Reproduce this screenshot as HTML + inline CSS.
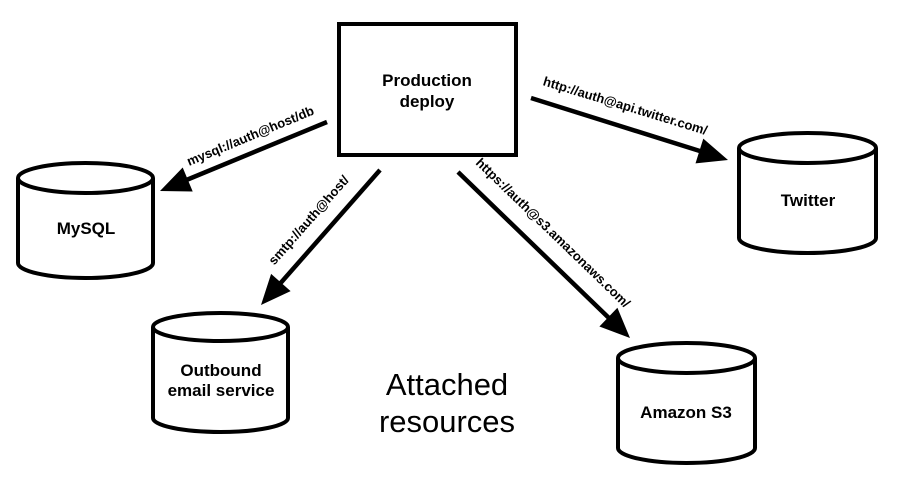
<!DOCTYPE html>
<html><head><meta charset="utf-8"><style>
html,body{margin:0;padding:0;background:#fff;}
svg{display:block;font-family:"Liberation Sans",sans-serif;font-weight:bold;}
</style></head><body>
<svg width="904" height="477" viewBox="0 0 904 477" xmlns="http://www.w3.org/2000/svg">
<g fill="#fff" stroke="#000" stroke-width="4">
<rect x="339" y="24" width="177" height="131"/>
<path d="M18,178 L18,263 A67.5,15 0 0 0 153,263 L153,178"/>
<ellipse cx="85.5" cy="178" rx="67.5" ry="15"/>
<path d="M153,327 L153,418 A67.5,14 0 0 0 288,418 L288,327"/>
<ellipse cx="220.5" cy="327" rx="67.5" ry="14"/>
<path d="M739,148 L739,238 A68.5,15 0 0 0 876,238 L876,148"/>
<ellipse cx="807.5" cy="148" rx="68.5" ry="15"/>
<path d="M618,358 L618,448 A68.5,15 0 0 0 755,448 L755,358"/>
<ellipse cx="686.5" cy="358" rx="68.5" ry="15"/>
</g>
<g stroke="#000" stroke-width="4.5" fill="none">
<line x1="327" y1="122" x2="184" y2="181"/>
<line x1="380" y1="170" x2="278" y2="286"/>
<line x1="458" y1="172" x2="611" y2="320"/>
<line x1="531" y1="98" x2="703" y2="152"/>
</g>
<g fill="#000">
<polygon points="160,191 182.7,167.5 192.7,191.5"/>
<polygon points="261,305 271.1,273.9 290.6,291.1"/>
<polygon points="630,338 599.4,326.5 617.4,307.7"/>
<polygon points="728,160 695.5,163.4 703.3,138.6"/>
</g>
<g font-size="17" text-anchor="middle" fill="#000">
<text x="427" y="86">Production</text>
<text x="427" y="107">deploy</text>
<text x="86" y="234">MySQL</text>
<text x="221" y="376">Outbound</text>
<text x="221" y="396">email service</text>
<text x="808" y="206">Twitter</text>
<text x="686" y="418">Amazon S3</text>
</g>
<g font-size="13" text-anchor="middle" fill="#000">
<text transform="translate(252,140) rotate(-22.5)">mysql://auth@host/db</text>
<text transform="translate(312,223) rotate(-48.5)">smtp://auth@host/</text>
<text transform="translate(550,236) rotate(44)">https://auth@s3.amazonaws.com/</text>
<text transform="translate(624,110) rotate(17)">http://auth@api.twitter.com/</text>
</g>
<g font-size="31" text-anchor="middle" fill="#000" style="font-weight:normal">
<text x="447" y="395">Attached</text>
<text x="447" y="432">resources</text>
</g>
</svg>
</body></html>
